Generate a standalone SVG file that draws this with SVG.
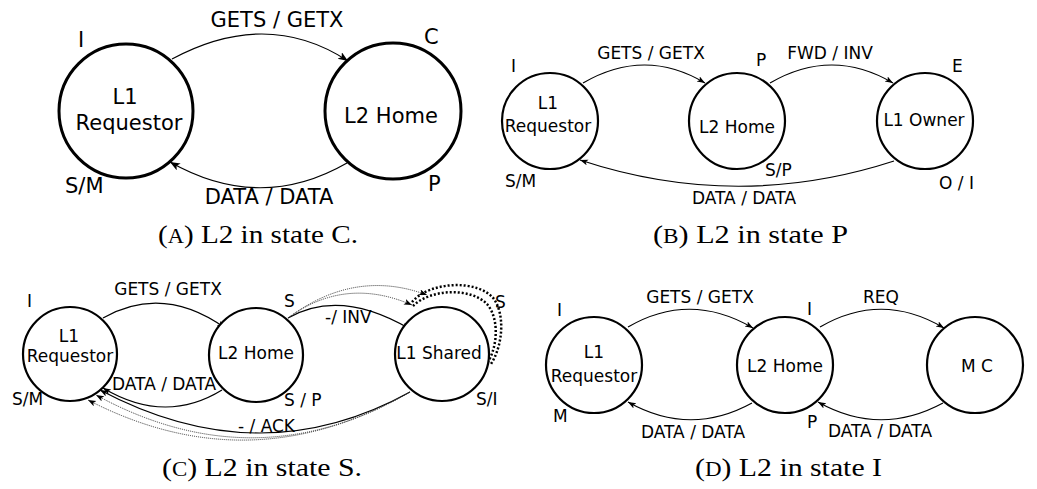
<svg xmlns="http://www.w3.org/2000/svg" width="1037" height="489" viewBox="0 0 1037 489">
<defs>
<style>
.bg{fill:#fff}
.node{fill:#fff;stroke:#000;stroke-width:2.2}
.nodeA{fill:#fff;stroke:#000;stroke-width:3}
.lbl{font-family:"DejaVu Sans",Verdana,sans-serif;font-size:17px;fill:#000}
.lblA{font-family:"DejaVu Sans",Verdana,sans-serif;font-size:21px;fill:#000}
.mid{text-anchor:middle}
.edge{fill:none;stroke:#000;stroke-width:1.2}
.dot{fill:none;stroke:#333;stroke-width:1;stroke-dasharray:1 1}
.thickdot{fill:none;stroke:#000;stroke-width:2.5;stroke-dasharray:2 2}
.cap{font-family:"Liberation Serif","Times New Roman",serif;font-size:26px;fill:#000}
</style>
<marker id="arr" markerUnits="userSpaceOnUse" markerWidth="11" markerHeight="9" refX="10" refY="4" orient="auto">
<path d="M0,0 L10,4 L0,8 L2.5,4 Z" fill="#000"/>
</marker>
<marker id="arrS" markerUnits="userSpaceOnUse" markerWidth="9" markerHeight="7" refX="8" refY="3" orient="auto">
<path d="M0,0 L8,3 L0,6 L2,3 Z" fill="#000"/>
</marker>
</defs>
<rect class="bg" x="0" y="0" width="1037" height="489"/>

<!-- Panel A -->
<g id="connectorsA">
<path class="edge" d="M172 59 Q267 8 348 61" marker-end="url(#arr)"/>
<path class="edge" d="M347 163 Q260 213 170 162" marker-end="url(#arr)"/>
<text class="lblA mid" x="277" y="27">GETS / GETX</text>
<text class="lblA mid" x="269" y="204">DATA / DATA</text>
</g>
<g id="A_L1Requestor">
<circle class="nodeA" cx="126" cy="111" r="67"/>
<text class="lblA mid" x="125" y="104">L1</text>
<text class="lblA mid" x="129" y="130">Requestor</text>
<text class="lblA" x="78" y="47">I</text>
<text class="lblA" x="65" y="193">S/M</text>
</g>
<g id="A_L2Home">
<circle class="nodeA" cx="393" cy="111" r="68"/>
<text class="lblA mid" x="391" y="123">L2 Home</text>
<text class="lblA" x="424" y="44">C</text>
<text class="lblA" x="428" y="191">P</text>
</g>
<text class="cap" x="158" y="243" textLength="200" lengthAdjust="spacingAndGlyphs">(<tspan font-size="20">A</tspan>) L2 in state C.</text>

<!-- Panel B -->
<g id="connectorsB">
<path class="edge" d="M583 83 Q645 47 705 83" marker-end="url(#arrS)"/>
<path class="edge" d="M770 83 Q832 47 893 83" marker-end="url(#arrS)"/>
<path class="edge" d="M894 161 Q737 212 580 160" marker-end="url(#arrS)"/>
<text class="lbl mid" x="651" y="59">GETS / GETX</text>
<text class="lbl mid" x="830" y="59">FWD / INV</text>
<text class="lbl mid" x="744" y="204">DATA / DATA</text>
</g>
<g id="B_L1Requestor">
<circle class="node" cx="550" cy="121" r="48"/>
<text class="lbl mid" x="548" y="109">L1</text>
<text class="lbl mid" x="548" y="132">Requestor</text>
<text class="lbl" x="511" y="72">I</text>
<text class="lbl" x="505" y="187">S/M</text>
</g>
<g id="B_L2Home">
<circle class="node" cx="737" cy="121" r="48"/>
<text class="lbl mid" x="737" y="133">L2 Home</text>
<text class="lbl" x="756" y="66">P</text>
<text class="lbl" x="765" y="176">S/P</text>
</g>
<g id="B_L1Owner">
<circle class="node" cx="925" cy="121" r="48"/>
<text class="lbl mid" x="924" y="126">L1 Owner</text>
<text class="lbl" x="952" y="72">E</text>
<text class="lbl" x="939" y="189">O / I</text>
</g>
<text class="cap" x="653" y="243" textLength="195" lengthAdjust="spacingAndGlyphs">(<tspan font-size="20">B</tspan>) L2 in state P</text>

<!-- Panel C -->
<g id="connectorsC">
<path class="edge" d="M103 318 Q163 284 225 328" marker-end="url(#arrS)"/>
<path class="edge" d="M288 318 Q340 288 410 329" marker-end="url(#arrS)"/>
<path class="dot" d="M288 318 Q345 276 412 305" marker-end="url(#arrS)"/>
<path class="dot" d="M288 318 Q355 268 427 295" marker-end="url(#arrS)"/>
<path class="thickdot" d="M413 306 C430 289 470 287 487 304 C499 318 498 345 488 362"/>
<path class="thickdot" d="M412 302 C430 281 478 279 494 299 C505 315 503 345 491 364"/>
<path class="edge" d="M222 390 Q165 425 103 388" marker-end="url(#arrS)"/>
<path class="edge" d="M410 392 Q260 475 100 390" marker-end="url(#arrS)"/>
<path class="dot" d="M410 392 Q255 482 96 395" marker-end="url(#arrS)"/>
<path class="dot" d="M410 392 Q250 484 88 400" marker-end="url(#arrS)"/>
<text class="lbl mid" x="168" y="295">GETS / GETX</text>
<text class="lbl" x="325" y="323">-/ INV</text>
<text class="lbl" x="112" y="390">DATA / DATA</text>
<text class="lbl" x="238" y="432">- / ACK</text>
</g>
<g id="C_L1Requestor">
<circle class="node" cx="70" cy="354" r="47"/>
<text class="lbl mid" x="69" y="342">L1</text>
<text class="lbl mid" x="70" y="362">Requestor</text>
<text class="lbl" x="27" y="307">I</text>
<text class="lbl" x="12" y="405">S/M</text>
</g>
<g id="C_L2Home">
<circle class="node" cx="256" cy="355" r="47"/>
<text class="lbl mid" x="256" y="359">L2 Home</text>
<text class="lbl" x="284" y="307">S</text>
<text class="lbl" x="284" y="406">S / P</text>
</g>
<g id="C_L1Shared">
<circle class="node" cx="442" cy="354" r="47"/>
<text class="lbl mid" x="439" y="359">L1 Shared</text>
<text class="lbl" x="495" y="308">S</text>
<text class="lbl" x="476" y="405">S/I</text>
</g>
<text class="cap" x="162" y="476" textLength="200" lengthAdjust="spacingAndGlyphs">(<tspan font-size="20">C</tspan>) L2 in state S.</text>

<!-- Panel D -->
<g id="connectorsD">
<path class="edge" d="M628 327 Q690 291 753 328" marker-end="url(#arrS)"/>
<path class="edge" d="M820 327 Q882 291 944 328" marker-end="url(#arrS)"/>
<path class="edge" d="M752 403 Q690 437 628 402" marker-end="url(#arrS)"/>
<path class="edge" d="M943 403 Q880 437 818 402" marker-end="url(#arrS)"/>
<text class="lbl mid" x="700" y="303">GETS / GETX</text>
<text class="lbl mid" x="881" y="303">REQ</text>
<text class="lbl mid" x="693" y="438">DATA / DATA</text>
<text class="lbl mid" x="880" y="437">DATA / DATA</text>
</g>
<g id="D_L1Requestor">
<circle class="node" cx="594" cy="365" r="48"/>
<text class="lbl mid" x="594" y="358">L1</text>
<text class="lbl mid" x="594" y="382">Requestor</text>
<text class="lbl" x="557" y="316">I</text>
<text class="lbl" x="553" y="422">M</text>
</g>
<g id="D_L2Home">
<circle class="node" cx="785" cy="365" r="48"/>
<text class="lbl mid" x="785" y="372">L2 Home</text>
<text class="lbl" x="807" y="315">I</text>
<text class="lbl" x="807" y="428">P</text>
</g>
<g id="D_MC">
<circle class="node" cx="975" cy="365" r="48"/>
<text class="lbl mid" x="977" y="372">M C</text>
</g>
<text class="cap" x="695" y="476" textLength="187" lengthAdjust="spacingAndGlyphs">(<tspan font-size="20">D</tspan>) L2 in state I</text>
</svg>
